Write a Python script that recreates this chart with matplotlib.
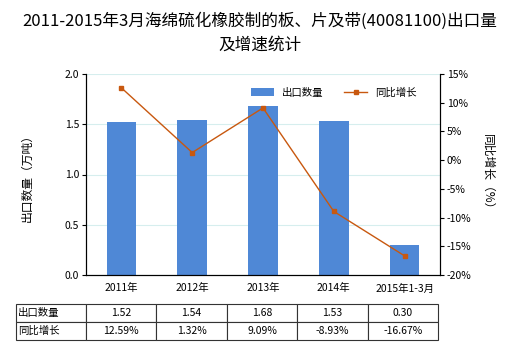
import matplotlib.pyplot as plt
import numpy as np

plt.rcParams['font.family'] = ['Noto Sans CJK SC', 'DejaVu Sans']

# data
categories = ["2011年", "2012年", "2013年", "2014年", "2015年1-3月"]
export_qty = [1.52, 1.54, 1.68, 1.53, 0.30]
growth = [12.59, 1.32, 9.09, -8.93, -16.67]
qty_labels = ["1.52", "1.54", "1.68", "1.53", "0.30"]
growth_labels = ["12.59%", "1.32%", "9.09%", "-8.93%", "-16.67%"]

bar_color = "#4f88d6"
line_color = "#c8580f"

fig = plt.figure(figsize=(5.2, 3.5), dpi=100)
ax = fig.add_axes([86 / 520, 75 / 350, 354 / 520, 201 / 350])
ax2 = ax.twinx()

x = np.arange(len(categories))
ax.bar(x, export_qty, width=0.42, color=bar_color, zorder=2, label="出口数量")
ax.set_xlim(-0.5, len(categories) - 0.5)
ax.set_ylim(0, 2.0)
ax.set_yticks(np.arange(0, 2.01, 0.5))
ax.set_yticklabels([f"{v:.1f}" for v in np.arange(0, 2.01, 0.5)], fontsize=7.5)
ax.yaxis.grid(True, color="#d6eeee", lw=0.8, zorder=0)
ax.set_axisbelow(True)
ax.set_xticks(x)
ax.set_xticklabels(categories, fontsize=7.5)
ax.tick_params(axis="x", length=0, pad=6)
ax.tick_params(axis="y", length=3, width=0.8, pad=2)
ax.set_ylabel("出口数量（万吨）", fontsize=8.5, labelpad=22)

ax2.plot(x, growth, color=line_color, lw=1, marker="s", markersize=3.5, zorder=3, label="同比增长")
ax2.set_ylim(-20, 15)
ax2.set_yticks(np.arange(-20, 16, 5))
ax2.set_yticklabels([f"{v}%" for v in range(-20, 16, 5)], fontsize=7.5)
ax2.tick_params(axis="y", length=3, width=0.8, pad=2)
ax2.set_ylabel("同比增长（%）", fontsize=8.5, rotation=-90, labelpad=16)

for a in (ax, ax2):
    a.spines["top"].set_visible(False)
    for s in ("left", "right", "bottom"):
        a.spines[s].set_linewidth(0.8)

h1, l1 = ax.get_legend_handles_labels()
h2, l2 = ax2.get_legend_handles_labels()
ax2.legend(h1 + h2, l1 + l2, loc="upper center", bbox_to_anchor=(0.7, 0.98), ncol=2,
           frameon=False, fontsize=7.5, handlelength=2.2, columnspacing=2.0)

# data table under the chart
cells = [["出口数量"] + qty_labels, ["同比增长"] + growth_labels]
tbl = ax.table(cellText=cells, cellLoc="center",
               colWidths=[70 / 422] + [70.4 / 422] * 5,
               bbox=[-70 / 354, -65 / 201, 422 / 354, 36 / 201])
tbl.auto_set_font_size(False)
tbl.set_fontsize(7.5)
for (r, c), cell in tbl.get_celld().items():
    cell.set_linewidth(0.8)
    cell.set_edgecolor("#333333")
    if c == 0:
        cell.set_text_props(ha="left")
        cell.PAD = 0.03

fig.text(0.5, 0.94, "2011-2015年3月海绵硫化橡胶制的板、片及带(40081100)出口量",
         ha="center", va="center", fontsize=12)
fig.text(0.5, 0.871, "及增速统计", ha="center", va="center", fontsize=12)

fig.savefig("out.png", dpi=100)
